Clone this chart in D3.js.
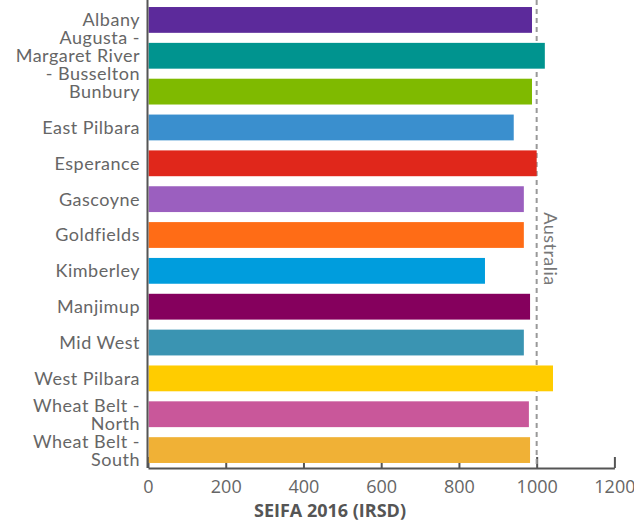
<!DOCTYPE html>
<html>
<head>
<meta charset="utf-8">
<script src="https://cdn.jsdelivr.net/npm/d3@7"></script>
<style>
  html, body { margin: 0; padding: 0; background: #fff; }
  svg { display: block; }
</style>
</head>
<body>
<svg id="chart" width="634" height="526"></svg>
<script>
const categories = [
  "Albany",
  "Augusta -\nMargaret River\n- Busselton",
  "Bunbury",
  "East Pilbara",
  "Esperance",
  "Gascoyne",
  "Goldfields",
  "Kimberley",
  "Manjimup",
  "Mid West",
  "West Pilbara",
  "Wheat Belt -\nNorth",
  "Wheat Belt -\nSouth"
];
const values = [988, 1021, 988, 941, 1000, 967, 967, 867, 983, 967, 1042, 980, 983];
const colors = ["#5c2a9b", "#00948f", "#7fba00", "#3a8fce", "#e0271b", "#9b5fbf", "#ff6c16",
                "#009ddd", "#85005d", "#3a94b2", "#ffcc00", "#c9579a", "#f0b136"];
const xTicks = [0, 200, 400, 600, 800, 1000, 1200];
const referenceValue = 1000;
const referenceLabel = "Australia";
const axisTitle = "SEIFA 2016 (IRSD)";

const svg = d3.select("#chart");
const x = d3.scaleLinear().domain([0, 1200]).range([148, 614.4]);
const y = d3.scaleBand().domain(categories).range([2, 468]).paddingInner(0.28).paddingOuter(0.14);
const axisY = 468;

// x axis
const gx = svg.append("g").attr("transform", `translate(0,${axisY})`)
  .call(d3.axisBottom(x).tickValues(xTicks).tickSizeInner(-11).tickSizeOuter(0).tickFormat(d3.format("d")));
gx.select(".domain").attr("stroke", "#555").attr("stroke-width", 2);
gx.selectAll(".tick line").attr("stroke", "#555").attr("stroke-width", 2);
gx.selectAll(".tick text").attr("y", 25).attr("dy", null)
  .attr("fill", "#666").style("font-family", "'Open Sans', sans-serif").style("font-size", "18px");

// reference line
svg.append("line")
  .attr("x1", x(referenceValue)).attr("x2", x(referenceValue))
  .attr("y1", 0).attr("y2", axisY)
  .attr("stroke", "#999").attr("stroke-width", 2).attr("stroke-dasharray", "5,4");

// bars
svg.append("g").selectAll("rect").data(categories).join("rect")
  .attr("x", x(0) + 0.6)
  .attr("y", d => y(d))
  .attr("width", (d, i) => x(values[i]) - x(0) - 0.6)
  .attr("height", y.bandwidth())
  .attr("fill", (d, i) => colors[i]);

// y axis
const gy = svg.append("g").attr("transform", `translate(${x(0)},0)`)
  .call(d3.axisLeft(y).tickSize(0).tickPadding(8));
gy.select(".domain").remove();
svg.append("line")
  .attr("x1", x(0) - 0.5).attr("x2", x(0) - 0.5)
  .attr("y1", 0).attr("y2", axisY)
  .attr("stroke", "#555").attr("stroke-width", 2);

const lh = 18;
gy.selectAll(".tick text").each(function(d) {
  const t = d3.select(this);
  const lines = d.split("\n");
  t.text(null).attr("dy", null).attr("x", -8)
    .attr("fill", "#666").style("font-family", "Lato, sans-serif").style("font-size", "18px")
    .style("letter-spacing", "0.5px");
  lines.forEach((ln, i) => {
    t.append("tspan").attr("x", -8)
      .attr("y", (i - (lines.length - 1) / 2) * lh)
      .attr("dy", "0.36em")
      .text(ln);
  });
});

// reference label
svg.append("text")
  .attr("transform", `translate(${x(referenceValue) + 7},${249}) rotate(90)`)
  .attr("text-anchor", "middle")
  .attr("fill", "#777")
  .style("font-family", "Lato, sans-serif")
  .style("font-size", "18px")
  .style("letter-spacing", "0.5px")
  .text(referenceLabel);

// axis title
svg.append("text")
  .attr("x", 330).attr("y", 517)
  .attr("text-anchor", "middle")
  .attr("fill", "#555")
  .style("font-family", "'Open Sans', sans-serif")
  .style("font-weight", "bold")
  .style("font-size", "18px")
  .text(axisTitle);
</script>
</body>
</html>
